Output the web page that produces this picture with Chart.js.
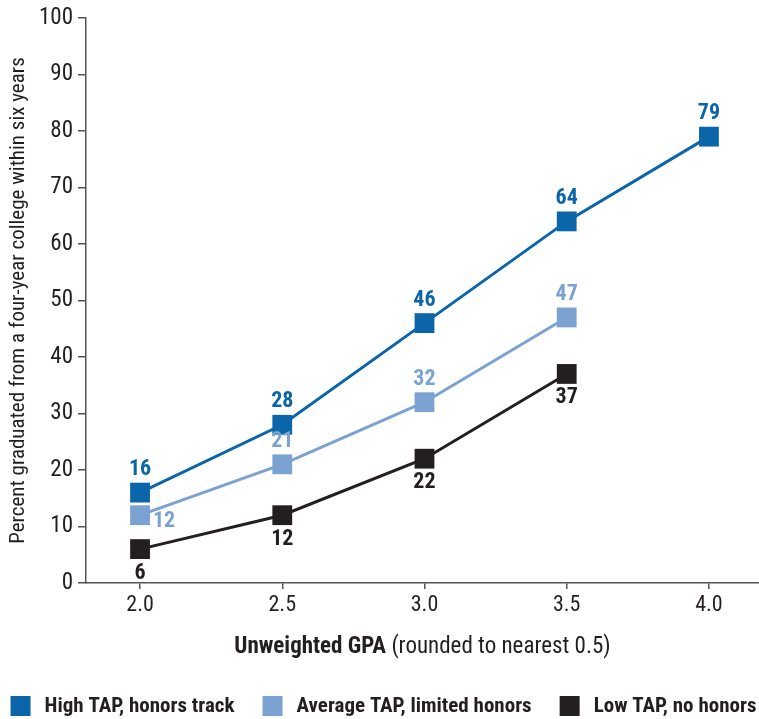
<!DOCTYPE html>
<html>
<head>
<meta charset="utf-8">
<script src="https://cdn.jsdelivr.net/npm/chart.js@4"></script>
<style>
html,body{margin:0;padding:0;background:#fff;}
#wrap{width:759px;height:719px;position:relative;}
</style>
</head>
<body>
<div id="wrap"><canvas id="c" width="759" height="719"></canvas></div>
<script>
const gpa = [2.0, 2.5, 3.0, 3.5, 4.0];
const tickLabels = ['2.0', '2.5', '3.0', '3.5', '4.0'];
const highTAP = [16, 28, 46, 64, 79];
const avgTAP = [12, 21, 32, 47];
const lowTAP = [6, 12, 22, 37];
const seriesNames = ['High TAP, honors track', 'Average TAP, limited honors', 'Low TAP, no honors'];
const colors = ['#0a65a9', '#7ba2d0', '#231f20'];
const yTitle = 'Percent graduated from a four-year college within six years';
const xTitleBold = 'Unweighted GPA';
const xTitleRest = ' (rounded to nearest 0.5)';

const FONT = '"Liberation Sans Narrow", "Roboto Condensed", "Arial Narrow", "DejaVu Sans Condensed", sans-serif';

function pts(vals){ return vals.map((v,i)=>({x:gpa[i], y:v})); }

const labelOffsets = [
  (i)=>({dx:0, dy:-23}),
  (i)=> i===0 ? {dx:24, dy:6} : {dx:0, dy:-23},
  (i)=>({dx:0, dy:24})
];

const dataLabels = {
  id:'dataLabels',
  afterDatasetsDraw(chart){
    const ctx = chart.ctx;
    ctx.save();
    ctx.font = 'bold 22px ' + FONT;
    ctx.textAlign = 'center';
    ctx.textBaseline = 'middle';
    chart.data.datasets.forEach((ds, di)=>{
      const meta = chart.getDatasetMeta(di);
      meta.data.forEach((p, i)=>{
        const o = labelOffsets[di](i);
        ctx.fillStyle = colors[di];
        ctx.fillText(String(ds.data[i].y), p.x + o.dx, p.y + o.dy);
      });
    });
    ctx.restore();
  }
};

const xTitlePlugin = {
  id:'xTitle',
  afterDraw(chart){
    const ctx = chart.ctx;
    const ca = chart.chartArea;
    ctx.save();
    ctx.textBaseline = 'middle';
    ctx.fillStyle = '#231f20';
    ctx.font = 'bold 23px ' + FONT;
    const w1 = ctx.measureText(xTitleBold).width;
    ctx.font = '23px ' + FONT;
    const w2 = ctx.measureText(xTitleRest).width;
    const cx = (ca.left + ca.right)/2;
    let x = cx - (w1+w2)/2;
    const y = 647;
    ctx.textAlign = 'left';
    ctx.font = 'bold 23px ' + FONT;
    ctx.fillText(xTitleBold, x, y);
    ctx.font = '23px ' + FONT;
    ctx.fillText(xTitleRest, x + w1, y);
    ctx.restore();
  }
};

const legendPlugin = {
  id:'customLegend',
  afterDraw(chart){
    const ctx = chart.ctx;
    ctx.save();
    ctx.font = 'bold 21px ' + FONT;
    ctx.textBaseline = 'middle';
    ctx.textAlign = 'left';
    const box = 20, gapText = 14, gapItem = 28;
    const widths = seriesNames.map(n=>ctx.measureText(n).width);
    let total = 0;
    widths.forEach((w,i)=>{ total += box + gapText + w + (i<widths.length-1?gapItem:0); });
    let x = (chart.width - total)/2 + 4;
    const yTop = 696;
    seriesNames.forEach((n,i)=>{
      ctx.fillStyle = colors[i];
      ctx.fillRect(x, yTop, box, box);
      ctx.fillStyle = '#231f20';
      ctx.fillText(n, x + box + gapText, yTop + box/2 + 1);
      x += box + gapText + widths[i] + gapItem;
    });
    ctx.restore();
  }
};

function mkDs(i, vals){
  return {
    label: seriesNames[i],
    data: pts(vals),
    borderColor: colors[i],
    backgroundColor: colors[i],
    borderWidth: 3,
    pointStyle: 'rect',
    pointRadius: 14,
    pointHoverRadius: 14,
    pointBorderWidth: 0,
    tension: 0,
    clip: false
  };
}

new Chart(document.getElementById('c'), {
  type: 'line',
  data: {
    datasets: [mkDs(0, highTAP), mkDs(1, avgTAP), mkDs(2, lowTAP)]
  },
  options: {
    responsive: false,
    animation: false,
    events: [],
    layout: { autoPadding: false, padding: { top: 18, right: 0, bottom: 0, left: 0 } },
    plugins: { legend: { display: false }, tooltip: { enabled: false } },
    scales: {
      x: {
        type: 'linear',
        min: 1.81,
        max: 4.176,
        afterBuildTicks(s){ s.ticks = gpa.map(v=>({value:v})); },
        afterFit(s){ s.height = 136; s.paddingLeft = 0; s.paddingRight = 0; },
        border: { display: true, color: '#555', width: 1.5 },
        grid: { drawOnChartArea: false, drawTicks: true, tickLength: 6, color: '#555', lineWidth: 1.5 },
        ticks: {
          color: '#231f20',
          font: { family: FONT, size: 22 },
          padding: 3,
          maxRotation: 0,
          autoSkip: false,
          callback: (v)=>{ const i = gpa.indexOf(v); return i>=0 ? tickLabels[i] : ''; }
        }
      },
      y: {
        min: 0,
        max: 100,
        afterFit(s){ s.width = 86; s.paddingTop = 0; s.paddingBottom = 0; },
        border: { display: true, color: '#555', width: 1.5 },
        grid: { drawOnChartArea: false, drawTicks: true, tickLength: 8, color: '#555', lineWidth: 1.5 },
        ticks: {
          stepSize: 10,
          color: '#231f20',
          font: { family: FONT, size: 23 },
          padding: 5
        },
        title: {
          display: true,
          text: yTitle,
          color: '#231f20',
          font: { family: FONT, size: 21 },
          padding: { top: 6, bottom: 4 }
        }
      }
    }
  },
  plugins: [dataLabels, xTitlePlugin, legendPlugin]
});
</script>
</body>
</html>
